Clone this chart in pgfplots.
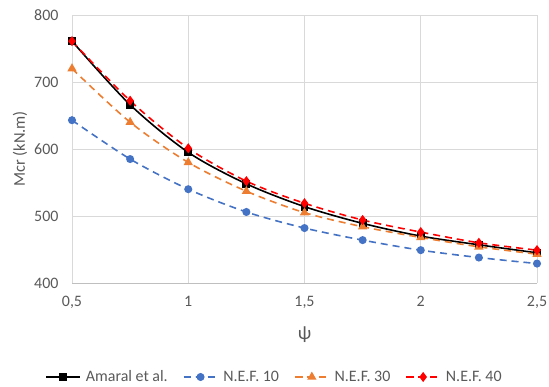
\documentclass[border=0pt]{standalone}
\usepackage{pgfplots}
\pgfplotsset{compat=1.18}
\usepackage{fontspec}
\setmainfont{Carlito}
\definecolor{txtgray}{HTML}{595959}
\definecolor{gridgray}{HTML}{D9D9D9}
\definecolor{axgray}{HTML}{BFBFBF}
\definecolor{exblue}{HTML}{4472C4}
\definecolor{exorange}{HTML}{ED7D31}
\begin{document}
\begin{tikzpicture}
\begin{axis}[
  name=ax,
  scale only axis,
  width=465bp, height=268bp,
  xmin=0.5, xmax=2.5, ymin=400, ymax=800,
  xtick={0.5,1,1.5,2,2.5},
  xticklabels={{0,5},{1},{1,5},{2},{2,5}},
  ytick={400,500,600,700,800},
  grid=major,
  major grid style={gridgray, line width=0.8pt},
  axis line style={draw=none},
  axis x line*=bottom,
  x axis line style={draw=axgray, line width=0.8pt},
  tick style={draw=none},
  tick label style={font=\fontsize{16}{18}\selectfont, text=txtgray},
  yticklabel style={xshift=-10bp},
  xticklabel style={yshift=-10bp},
  /pgf/number format/assume math mode=true,
  xlabel={ψ},
  every axis x label/.style={at={(axis description cs:0.5,0)}, yshift=-52bp, anchor=center},
  xlabel style={font=\fontsize{19}{21}\selectfont, text=txtgray},
  ylabel={Mcr (kN.m)},
  every axis y label/.style={at={(axis description cs:0,0.5)}, xshift=-52bp, rotate=90, anchor=center},
  ylabel style={font=\fontsize{16.5}{18}\selectfont, text=txtgray},
  legend style={at={(axis description cs:0.4355,0)}, yshift=-94bp, anchor=center, draw=none, fill=none,
    font=\fontsize{16}{18}\selectfont, text=txtgray, legend columns=4,
    /tikz/every odd column/.append style={column sep=3bp},
    /tikz/every even column/.append style={column sep=13bp}},
  legend cell align=left,
  legend image code/.code={\draw[mark repeat=2,mark phase=2] plot coordinates {(0bp,0bp) (17bp,0bp) (34bp,0bp)};},
]
\addplot[black, line width=1.6pt, smooth, mark=square*, mark size=3.2pt, mark options={solid}] coordinates {
(0.5,761) (0.75,666) (1,595) (1.25,548) (1.5,514) (1.75,489) (2,470) (2.25,457) (2.5,445)};
\addlegendentry{Amaral et al.}
\addplot[exblue, line width=1.6pt, dash pattern=on 7bp off 5bp, smooth, mark=*, mark size=3.2pt, mark options={solid}] coordinates {
(0.5,643) (0.75,585) (1,540) (1.25,506) (1.5,482) (1.75,464) (2,449) (2.25,438) (2.5,429)};
\addlegendentry{N.E.F. 10}
\addplot[exorange, line width=1.6pt, dash pattern=on 7bp off 5bp, smooth, mark=triangle*, mark size=3.8pt, mark options={solid}] coordinates {
(0.5,720) (0.75,640) (1,580) (1.25,537) (1.5,505) (1.75,484) (2,468) (2.25,454) (2.5,443)};
\addlegendentry{N.E.F. 30}
\addplot[red, line width=1.6pt, dash pattern=on 7bp off 5bp, smooth, mark=diamond*, mark size=3.8pt, mark options={solid}] coordinates {
(0.5,761) (0.75,672) (1,601) (1.25,552) (1.5,519) (1.75,494) (2,476) (2.25,460) (2.5,449)};
\addlegendentry{N.E.F. 40}
\end{axis}
\pgfresetboundingbox
\path ([xshift=-72bp,yshift=-104bp]ax.south west) rectangle ([xshift=12bp,yshift=15bp]ax.north east);
\end{tikzpicture}
\end{document}
